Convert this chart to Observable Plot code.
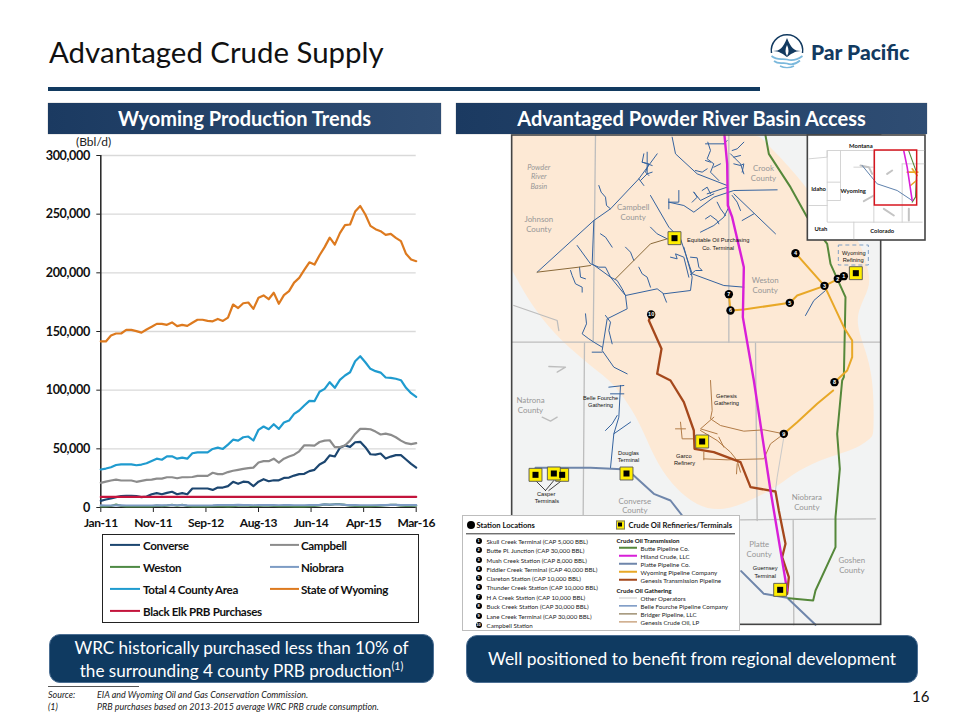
<!DOCTYPE html>
<html><head><meta charset="utf-8">
<script src="https://cdn.jsdelivr.net/npm/d3@7"></script>
<script src="https://cdn.jsdelivr.net/npm/@observablehq/plot@0.6"></script>
<style>
html,body{margin:0;padding:0;background:#fff;width:960px;height:720px;overflow:hidden;font-family:Lato,sans-serif}
.a{position:absolute;white-space:nowrap}
.m{transform:translateY(-50%)}
.hdr{background:linear-gradient(90deg,#1b3a61,#2f4d73);color:#fff;font-weight:700;font-size:20px;text-align:center;height:31px;line-height:31px;top:103px;box-shadow:0 0 1px #888}
.call{background:#0f3a61;border:1.5px solid #4c6f93;border-radius:11px;color:#fff;text-align:center;box-sizing:border-box}
sup{font-size:62%;line-height:0}
#chart text{letter-spacing:-0.4px}
</style></head><body>
<div id="slide" style="position:absolute;left:0;top:0;width:960px;height:720px">
<div class="a" style="left:49px;top:32px;font-size:29.4px;color:#111;line-height:40px">Advantaged Crude Supply</div>
<div class="a" style="left:48px;top:87px;width:712px;height:3.5px;background:#123a60"></div>
<svg class="a" style="left:768px;top:32px" width="38" height="38" viewBox="0 0 38 38">
<path d="M3.5 21 A15.7 15.7 0 1 1 34.5 21" fill="none" stroke="#123a60" stroke-width="1.5"/>
<path d="M5 19 C12 19 15 16 19 6 C23 16 26 19 33 19 C27 19 23 22 19 25 C15 22 11 19 5 19Z" fill="#123a60"/>
<path d="M19 13 C21 17 21 21 19 24 C17 21 17 17 19 13Z" fill="#fff"/>
<path d="M3.5 24 C10 29 14 26 19 27.5 C24 29 29 28 34.5 24" fill="none" stroke="#7ab8dc" stroke-width="1.7"/>
<path d="M6 29 C11 33 15 30 19 31.5 C23 33 28 32 32 28.5" fill="none" stroke="#7ab8dc" stroke-width="1.7"/>
<path d="M12 34 C16 36 22 36 26 34" fill="none" stroke="#7ab8dc" stroke-width="1.4"/>
</svg>
<div class="a" style="left:811px;top:38px;font-size:21px;font-weight:900;color:#123a60;line-height:28px">Par Pacific</div>
<div class="a hdr" style="left:48px;width:393px">Wyoming Production Trends</div>
<div class="a hdr" style="left:456px;width:471px">Advantaged Powder River Basin Access</div>
<div class="a" style="left:76px;top:134px;font-size:12px;color:#222;line-height:16px">(Bbl/d)</div>
<div id="chart" class="a" style="left:0;top:130px"></div>
<div id="map" class="a" style="left:510px;top:130px"></div>
<div id="chartLegend" class="a" style="left:102px;top:534px;width:317px;height:89px;border:1.5px solid #222;box-sizing:border-box;background:#fff"></div>
<div id="mapLegend" class="a" style="left:462px;top:515px;width:278px;height:116px;background:#fff;border:1.5px solid #bdbdbd;box-sizing:border-box"></div>
<div class="a call" style="left:49px;top:634px;width:385px;height:49px;font-size:17.1px;line-height:23px;padding-top:1px">WRC historically purchased less than 10% of<br>the surrounding 4 county PRB production<sup>(1)</sup></div>
<div class="a call" style="left:466px;top:635px;width:452px;height:48px;font-size:17.4px;line-height:45px">Well positioned to benefit from regional development</div>
<div class="a" style="left:48px;top:686px;width:91px;height:1px;background:#555"></div>
<div class="a" style="left:48px;top:688.5px;font-size:8.95px;font-style:italic;color:#222;line-height:11px">Source:</div>
<div class="a" style="left:97px;top:688.5px;font-size:8.95px;font-style:italic;color:#222;line-height:11px">EIA and Wyoming Oil and Gas Conservation Commission.</div>
<div class="a" style="left:48px;top:700.5px;font-size:8.95px;font-style:italic;color:#222;line-height:11px">(1)</div>
<div class="a" style="left:97px;top:700.5px;font-size:8.95px;font-style:italic;color:#222;line-height:11px">PRB purchases based on 2013-2015 average WRC PRB crude consumption.</div>
<div class="a" style="left:912px;top:687px;font-size:15px;color:#111;line-height:18px">16</div>
</div>
<script>
// ---------- Production chart data (Bbl/d, thousands) : Jan-11 .. Mar-16, monthly ----------
const tickMonths = [0, 10.33, 20.67, 31, 41.33, 51.67, 62];
const tickLabels = ["Jan-11","Nov-11","Sep-12","Aug-13","Jun-14","Apr-15","Mar-16"];
const yTicks = [0, 50000, 100000, 150000, 200000, 250000, 300000];
const converse = [5.7,6.8,7.7,8.8,9.7,10,10,9.7,8.8,9.4,11.3,12.2,11.3,12.5,13.4,11.3,12.2,11.3,16.2,16.2,16.2,16.2,15,17,17,18.2,21.9,20.2,22,21.6,18.2,22,24.1,22.4,23.2,23.2,25.2,25.5,27.2,28.4,28.7,31,32.1,36.7,39,44.4,43.5,50.9,52.8,51.7,55.6,56,51.4,45.4,45.1,46,41.7,43.4,44.6,44.6,40.9,37.2,34];
const campbell = [21,22,23,23.8,23,23,23,21.9,22.7,23.5,23.8,24.6,24.6,25.8,25.8,24.9,25.8,25.8,26,27,27,27,29.6,28.5,28.5,30.2,31.3,32.1,32.9,33.5,34,38.3,39.5,39.5,41.6,38.3,41.6,43.4,45,47.9,53,53,52.8,55.8,57,57.3,51.5,51.5,52.8,57,62.7,67,67,66.7,64.7,62.2,63,61.9,59.9,57,54.8,54,54.8];
const weston = [1,1,1.3,2.4,1.4,1,1,1,1,1,1,1.6,1.2,1.6,2.2,1.5,2.2,1.3,1,1,1,1,1.2,1.4,1.2,1,1.2,1.6,1.5,1.6,1.2,1.4,1.6,1.5,1.3,1.2,1.3,1.2,1,1,1,1.1,1.4,1.8,2.6,2.2,2.8,2.8,2.2,1.6,1.4,1.2,1.2,1.2,1.4,1.6,1.9,2.2,2.2,1.6,1.4,1.4,1.5];
const niobrara = [1.8,1.7,1.7,1.9,1.8,1.7,1.7,1.7,1.7,1.7,1.7,1.9,1.8,1.9,2,1.9,2,1.8,1.7,1.7,1.7,1.7,1.8,2,2,2,2.1,2.2,2,2,1.9,2,2.1,2,2,1.9,2,2,1.9,1.9,1.9,2,2.1,2.2,2.6,2.4,2.6,2.6,2.3,2.1,2,1.9,1.9,1.9,1.9,2,2.1,2.2,2.2,2.1,2,2,2];
const total4 = [32.4,33.2,34.3,36.2,36.8,36.8,36.8,36,36.6,37.7,39.6,41.6,40.7,43.6,43.6,41.6,42.5,41.6,46.2,47,47,47,49.9,51,49.9,53.6,57.8,57,59.9,60.5,57.1,66.2,69,66.7,71,67,72.4,74.1,79.8,82.7,86.9,90.9,90.6,98.6,101.1,106.8,102,108.8,112.5,115.3,124.7,128.9,123.8,118.2,116.2,115,110.8,110.5,109.7,108.5,102,97.4,94.3];
const wyoming = [141.5,141.5,146.6,148.3,148.3,151.4,151.4,150.3,149,151.7,154,156.5,156.5,155.7,157.7,154.6,155.7,154.8,157.5,160,160,159,158.7,160.7,159,161.8,173,170,174.1,174.7,169.3,178.7,180.7,177.5,183,173.6,181,184.4,191.7,195.7,202.5,209,207,215,221.9,230,224,233.8,240.6,241.2,252.2,257,249.7,240,237.2,235.5,232.4,233.2,229.8,227,216.2,211.3,209.9];
const blackElk = Array.from(converse, () => 9);
const seriesNames = ["Converse","Campbell","Weston","Niobrara","Total 4 County Area","State of Wyoming","Black Elk PRB Purchases"];
const seriesValues = [converse,campbell,weston,niobrara,total4,wyoming,blackElk];
const seriesColors = ["#1c4670","#8c8c8c","#4f8a45","#7d9cc4","#1f9bcf","#dd7a1f","#c3143c"];
const legendXY = [[0,0],[1,0],[0,1],[1,1],[0,2],[1,2],[0,3]];

const rows = seriesNames.flatMap((name,s)=>seriesValues[s].map((v,i)=>({name,i,v:v*1000})));
const chart = Plot.plot({
  width:450,height:400,marginLeft:100.3,marginRight:34.3,marginTop:25,marginBottom:23,
  style:{background:"transparent",overflow:"visible"},
  x:{domain:[0,62]},
  y:{domain:[0,300000]},
  color:{domain:seriesNames,range:seriesColors},
  marks:[
    Plot.gridY(yTicks.slice(1),{stroke:"#d9d9d9",strokeOpacity:1,strokeWidth:1.4}),
    Plot.axisY({ticks:yTicks,tickFormat:d3.format(","),label:null,tickSize:4,tickPadding:7,fontSize:12.6,fontWeight:700,fontFamily:"Lato",fill:"#111",stroke:"#222"}),
    Plot.axisX({ticks:tickMonths,tickFormat:(d,i)=>tickLabels[i],label:null,tickSize:5,tickPadding:6,fontSize:12,fontWeight:700,fontFamily:"Lato",fill:"#111",stroke:"#222"}),
    Plot.ruleX([0],{stroke:"#222",strokeWidth:1.5}),
    Plot.ruleY([0],{stroke:"#222",strokeWidth:1}),
    Plot.line(rows,{x:"i",y:"v",z:"name",stroke:"name",strokeWidth:2.2,strokeLinejoin:"round",curve:"linear"})
  ]
});
document.getElementById("chart").append(chart);

const lg = document.getElementById("chartLegend");
seriesNames.forEach((n,k)=>{
  const [c,r]=legendXY[k];
  const sx = c? 166.5:6.5, tx = c? 198:40;
  const y = 9.5+r*22;
  lg.insertAdjacentHTML("beforeend",`<div class="a m" style="left:${sx}px;top:${y}px;width:${c?29:30}px;height:2.2px;background:${seriesColors[k]}"></div>
  <div class="a m" style="left:${tx}px;top:${y}px;font-weight:700;font-size:11.6px;letter-spacing:-0.35px;color:#111">${n}</div>`);
});

// ---------- Map data: positions, in map units ----------
const mapFrame = {x1:5,x2:1112,y1:15,y2:1483};
const supplyBasin = [[5,15],[5,15],[5,15],[745,15],[745,15],[800,70],[890,170],[945,260],[1040,300],[1075,420],[1080,470],[1040,540],[1040,600],[1090,720],[1090,910],[1085,920],[1040,955],[950,980],[860,1020],[800,1070],[720,1110],[640,1142],[560,1130],[480,1060],[430,980],[390,880],[340,800],[300,750],[220,690],[130,610],[60,520],[5,420],[5,420],[5,420]];
const countyLines = [
 [[255,15],[248,635]],[[655,15],[655,635]],[[5,635],[1110,635]],[[222,638],[218,1155]],[[735,638],[740,1170]],[[690,1168],[1095,1165]],[[848,1170],[850,1483]],
 [[10,525],[140,570],[145,600]],[[115,708],[165,710],[140,725]],[[95,860],[120,872],[140,860]]];
const butte = [[765,15],[775,70],[840,170],[890,260],[950,340],[960,400],[1005,500],[1000,740],[995,750],[980,910],[988,1015],[975,1160],[975,1250],[915,1380],[908,1410],[835,1403]];
const hiland = [[642,15],[650,100],[652,225],[665,260],[700,410],[697,560],[730,750],[780,1080],[830,1380]];
const platte = [[75,1012],[240,1012],[350,1017],[430,1090],[480,1110],[515,1155]];
const platte2 = [[692,1322],[760,1390],[830,1402],[915,1483]];
const wyoPipeline = [
 [[1000,437],[942,466],[860,495],[838,517],[700,537],[660,540],[655,491]],
 [[855,368],[942,466],[1000,590],[1025,630],[1025,680],[1010,720],[972,755]],
 [[968,780],[920,820],[860,875],[820,910]]];
const genesisMain = [[422,552],[415,570],[453,655],[440,730],[480,750],[520,815],[550,900],[552,955],[610,965],[690,995],[720,1070],[795,1083],[805,1140],[825,1240],[815,1280],[835,1340],[830,1390]];
const belleFourche = [
 [[80,425],[250,270],[300,235],[385,145],[440,70]],[[265,165],[272,185],[285,200],[288,225],[300,235]],
 [[250,270],[245,400],[300,440],[345,495],[350,535],[290,565],[275,660],[310,710],[350,730]],
 [[270,310],[285,320],[305,350]],[[200,345],[240,400],[265,410],[285,410],[300,440],[320,450],[335,475],[345,495]],
 [[180,420],[185,435],[195,460],[215,470],[215,485]],[[207,410],[210,440],[225,445]],
 [[345,495],[440,475],[460,490],[540,480],[545,440],[520,350]],[[385,410],[395,430],[410,440],[420,470]],[[345,350],[360,365],[370,390]],[[458,490],[468,515]],
 [[420,290],[440,310],[470,325]],[[420,195],[475,290],[510,325],[545,430],[640,465],[700,470]],
 [[480,380],[500,385],[495,370],[520,380],[535,440]],[[540,380],[560,382],[565,410],[575,420],[555,420],[540,432]],
 [[225,550],[228,580],[215,610],[235,625],[250,635],[275,650]],[[285,555],[300,575],[295,600],[305,640]],[[245,665],[275,665]],
 [[400,70],[395,95],[415,100],[405,125],[415,135]],[[410,65],[410,130],[390,150]],[[395,95],[425,105]],[[385,145],[400,165]],[[410,130],[425,125]],
 [[485,20],[495,70],[560,130],[650,165]],[[585,40],[640,40]],[[592,35],[600,60],[590,85],[610,100],[600,125],[625,150]],[[555,120],[575,125],[590,115]],[[600,95],[585,90]],[[610,110],[630,100]],[[640,40],[650,30]],
 [[475,215],[520,225],[550,245],[610,200],[670,180],[800,178]],[[505,180],[505,215],[475,215]],[[475,205],[475,235]],[[550,185],[570,210],[610,190]],[[550,185],[560,200],[545,215]],[[590,190],[650,170]],[[600,190],[590,170],[575,180]],
 [[670,190],[795,310]],[[730,250],[695,270]],[[570,305],[590,295],[610,285],[640,260],[655,230]],[[585,265],[600,255],[620,270],[625,280]],[[620,215],[630,235],[645,255]],
 [[665,60],[680,55],[700,35]],[[670,80],[690,75]],[[670,100],[690,105],[700,100],[695,125]],[[660,70],[690,100],[700,130]],[[665,195],[680,215],[690,240]],[[945,480],[910,510],[885,555]],
 [[295,770],[340,765]],[[300,790],[340,790]],[[330,765],[325,860],[310,910],[300,1012]],[[310,910],[360,875]],[[285,900],[305,880],[320,855]]];
const bridger = [[[80,425],[205,410],[240,405]],[[315,445],[420,340],[470,325]]];
const genesisGathering = [
 [[600,750],[605,840],[600,865],[630,885],[700,902],[760,898],[820,910]],[[610,860],[570,895],[620,910]],
 [[570,900],[620,930],[660,965],[680,990],[690,1025]],[[510,875],[515,925],[550,925]],[[495,895],[525,895]],
 [[580,985],[650,988],[760,985],[780,940],[820,910]],[[580,965],[580,988]],[[625,920],[640,950]],[[680,1000],[678,1030]]];
const otherOperators = [[[820,920],[800,1040],[795,1080]]];
const casperLeaders = [[[78,1053],[105,1080]],[[130,1050],[105,1080]],[[150,1053],[115,1080]]];
const terminals = [[155,1033],[75,1033],[130,1029],[492,323],[1036,428],[575,933],[348,1029],[809,1378]];
const stations = [[1000,437],[982,445],[942,466],[855,368],[838,517],[660,540],[655,491],[972,755],[820,910],[422,552]];
const grayLabels = [["Crook",759,114],["County",759,143],["Campbell",368,232],["County",368,262],["Johnson",85,268],["County",85,297],["Weston",764,451],["County",764,480],["Natrona",60,810],["County",60,840],["Converse",373,1112],["County",373,1141],["Niobrara",889,1102],["County",889,1132],["Platte",746,1242],["County",746,1271],["Goshen",1024,1291],["County",1024,1321]];
const basinLabels = [["Powder",85,110],["River",85,139],["Basin",85,168]];
const blackLabels = [["Equitable Oil Purchasing",623,330],["Co. Terminal",623,352],["Wyoming",1030,367],["Refining",1028,389],["Belle Fourche",270,802],["Gathering",270,825],["Genesis",648,796],["Gathering",648,818],["Douglas",354,967],["Terminal",354,990],["Garco",520,976],["Refinery",522,998],["Casper",107,1092],["Terminals",109,1113],["Guernsey",764,1313],["Terminal",764,1336]];
const refineryBox = {x1:985,x2:1075,y1:345,y2:405};
const insetFrame = {x1:892,x2:1245,y1:15,y2:330};
const insetFocus = {x1:1093,x2:1220,y1:60,y2:225};
const insetStates = [[[895,85],[950,80],[950,60],[1240,60]],[[950,60],[950,275],[1235,275]],[[990,155],[950,155]],[[895,225],[950,225]],[[1030,275],[1030,325]],[[990,60],[990,210],[950,210]],[[1090,60],[1090,275]],[[1175,100],[1175,275]],[[1175,100],[1240,100]],[[1030,110],[1090,110]]];
const insetBasins = [[[1050,105],[1075,110],[1085,130]],[[1060,212],[1090,195]],[[1120,235],[1150,255]],[[1130,130],[1145,120]],[[1195,235],[1195,270]]];
const insetBlue = [[1055,105],[1100,160],[1160,180],[1205,210]];
const insetMagenta = [[1180,62],[1190,110],[1205,210]];
const insetGreen = [[1195,62],[1218,125],[1215,200],[1205,215]];
const insetOrange = [[[1190,125],[1222,125]],[[1205,115],[1220,135]],[[1200,165],[1218,150]]];
const insetLabels = [["Montana",1051,47],["Idaho",924,176],["Wyoming",1028,182],["Utah",931,297],["Colorado",1115,302]];

const multi = lines => lines.flatMap((l,id)=>l.map(([u,v])=>({u,v,id})));
const pts = l => multi([l]);
const lab = a => a.map(([t,u,v])=>({t,u,v}));
const routes = (lines,stroke,strokeWidth,extra={}) => Plot.line(multi(lines),{x:"u",y:"v",z:"id",stroke,strokeWidth,strokeLinejoin:"round",curve:"linear",...extra});
const MAPFONT = "Liberation Sans";

const map = Plot.plot({
  width:417,height:500,margin:0,axis:null,
  style:{background:"transparent",overflow:"visible"},
  x:{domain:[0,1251],range:[0,417]},
  y:{domain:[0,1500],range:[0,500]},
  marks:[
    Plot.rect([mapFrame],{x1:"x1",x2:"x2",y1:"y1",y2:"y2",fill:"#f2f3f3"}),
    Plot.line(pts(supplyBasin),{x:"u",y:"v",fill:"#fde9d5",stroke:"none",curve:"basis"}),
    routes(countyLines,"#bdbdbd",1.3),
    routes(otherOperators,"#c9c9c9",1),
    routes(belleFourche,"#35639f",1),
    routes(bridger,"#8a6a3a",1),
    routes(genesisGathering,"#b27c48",1),
    routes(casperLeaders,"#111",0.8),
    routes([platte,platte2],"#6f86ab",2),
    routes([butte],"#55883a",2),
    routes(wyoPipeline,"#e8a827",2),
    routes([genesisMain],"#a5481c",2.3),
    routes([hiland],"#d81fd8",2.4),
    Plot.rect([refineryBox],{x1:"x1",x2:"x2",y1:"y1",y2:"y2",fill:"none",stroke:"#7f9fc4",strokeWidth:1,strokeDasharray:"4,3"}),
    Plot.dot(terminals,{x:d=>d[0],y:d=>d[1],symbol:"square",r:7.3,fill:"#ffee00",stroke:"#555",strokeWidth:0.9}),
    Plot.dot(terminals,{x:d=>d[0],y:d=>d[1],symbol:"square",r:3.4,fill:"#000"}),
    Plot.dot(stations,{x:d=>d[0],y:d=>d[1],r:4.2,fill:"#000"}),
    Plot.text(stations,{x:d=>d[0],y:d=>d[1],text:(d,i)=>String(i+1),fill:"#fff",fontSize:5.5,fontWeight:700,fontFamily:MAPFONT}),
    Plot.text(lab(grayLabels),{x:"u",y:"v",text:"t",fill:"#979797",fontSize:7.9,fontFamily:"Lato"}),
    Plot.text(lab(basinLabels),{x:"u",y:"v",text:"t",fill:"#979797",fontSize:7.4,fontStyle:"italic",fontFamily:"Lato"}),
    Plot.text(lab(blackLabels),{x:"u",y:"v",text:"t",fill:"#111",fontSize:5.7,fontFamily:MAPFONT}),
    Plot.rect([mapFrame],{x1:"x1",x2:"x2",y1:"y1",y2:"y2",fill:"none",stroke:"#444",strokeWidth:1.6}),
    // inset locator
    Plot.rect([insetFrame],{x1:"x1",x2:"x2",y1:"y1",y2:"y2",fill:"#fff",stroke:"#444",strokeWidth:1.6}),
    routes(insetStates,"#cfcfcf",0.9),
    routes(insetBasins,"#c4c4c4",2),
    routes([insetBlue],"#5f82ad",1),
    routes([insetGreen],"#55883a",1.1),
    routes(insetOrange,"#e8a827",1.6),
    routes([insetMagenta],"#d81fd8",1.6),
    Plot.rect([insetFocus],{x1:"x1",x2:"x2",y1:"y1",y2:"y2",fill:"none",stroke:"#d7161f",strokeWidth:1.5}),
    Plot.text(lab(insetLabels),{x:"u",y:"v",text:"t",fill:"#111",fontSize:5.9,fontWeight:700,fontFamily:"Lato"})
  ]
});
document.getElementById("map").append(map);

// ---------- Map legend ----------
const stationNames = ["Skull Creek Terminal (CAP 5,000 BBL)","Butte Pl. Junction (CAP 30,000 BBL)","Mush Creek Station (CAP 8,000 BBL)","Fiddler Creek Terminal (CAP 40,000 BBL)","Clareton Station (CAP 10,000 BBL)","Thunder Creek Station (CAP 10,000 BBL)","H A Creek Station (CAP 10,000 BBL)","Buck Creek Station (CAP 30,000 BBL)","Lane Creek Terminal (CAP 30,000 BBL)","Campbell Station"];
const transmission = [["Butte Pipeline Co.","#55883a",2.5],["Hiland Crude, LLC","#d81fd8",2.5],["Platte Pipeline Co.","#6f86ab",2.5],["Wyoming Pipeline Company","#e8a827",2.5],["Genesis Transmission Pipeline","#a5481c",2.5]];
const gathering = [["Other Operators","#c9c9c9",1],["Belle Fourche Pipeline Company","#2f5ea3",1.2],["Bridger Pipeline, LLC","#6f5a2e",1.2],["Genesis Crude Oil, LP","#b27c48",1.2]];
const ml = document.getElementById("mapLegend");
const put = (x,y,html)=>ml.insertAdjacentHTML("beforeend",`<div class="a m" style="left:${x-463.5}px;top:${y-516.5}px;${html}</div>`);
put(467,525,`width:8px;height:8px;border-radius:50%;background:#000">`);
put(477,525,`font-size:7.6px;font-weight:700;color:#111">Station Locations`);
put(616,525,`width:7px;height:7px;background:#ffee00;border:1.5px solid #777;box-sizing:content-box"><div style="position:absolute;left:1.5px;top:1.5px;width:4px;height:4px;background:#000"></div>`);
put(629,525,`font-size:7.6px;font-weight:700;color:#111">Crude Oil Refineries/Terminals`);
put(466,534,`width:269px;height:1.4px;background:#333">`);
const stationY = [541.3,550.7,560,569.3,578.3,587.7,597.3,606.7,616,625];
stationNames.forEach((n,i)=>{
  put(476,stationY[i],`width:6px;height:6px;border-radius:50%;background:#000;color:#fff;font:700 4px/6px 'Liberation Sans';text-align:center">${i+1}`);
  put(487,stationY[i],`font-size:6.2px;color:#222">${n}`);
});
put(617,540,`font-size:6.2px;font-weight:700;color:#111">Crude Oil Transmission`);
transmission.forEach(([n,c,w],i)=>{
  const y=548+8*i;
  put(619,y,`width:18px;height:${w}px;background:${c}">`);
  put(641,y,`font-size:6.2px;color:#222">${n}`);
});
put(617,590,`font-size:6.2px;font-weight:700;color:#111">Crude Oil Gathering`);
gathering.forEach(([n,c,w],i)=>{
  const y=598+8*i;
  put(619,y,`width:18px;height:${w}px;background:${c}">`);
  put(641,y,`font-size:6.2px;color:#222">${n}`);
});
</script>
</body></html>
